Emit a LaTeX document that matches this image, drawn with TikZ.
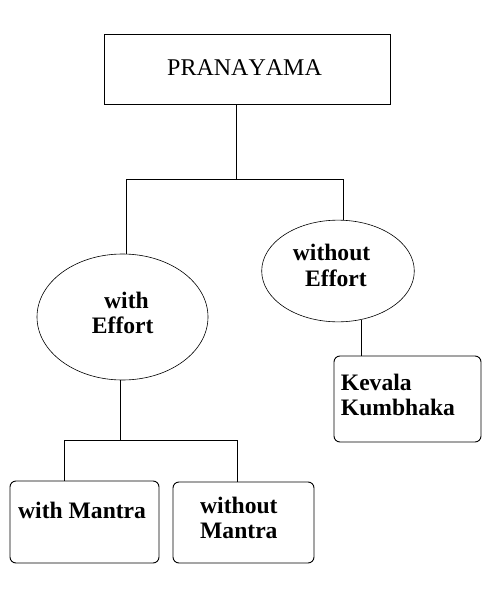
\documentclass[tikz,border=0pt]{standalone}
\usepackage{fontspec}
\setmainfont{Liberation Serif}[Kerning=Off]
\usetikzlibrary{shapes.geometric}
\begin{document}
\begin{tikzpicture}[x=1bp,y=-1bp,
  link/.style={line width=0.9bp},
  sqbox/.style={draw,line width=0.9bp,inner sep=0pt},
  rbox/.style={draw,line width=0.9bp,rounded corners=6bp,inner sep=0pt},
  oval/.style={draw,ellipse,line width=0.6bp,inner sep=0pt},
  lbl/.style={anchor=base west,inner sep=0pt,font=\fontsize{23.6bp}{25bp}\selectfont\bfseries},
  tlbl/.style={anchor=base west,inner sep=0pt,font=\fontsize{24bp}{25bp}\selectfont}]
\useasboundingbox (0,0) rectangle (491,611);
% shapes
\node[sqbox,minimum width=286bp,minimum height=70bp] (pran) at (247,69) {};
\node[oval,minimum width=171bp,minimum height=126bp] (wE) at (122.5,317) {};
\node[oval,minimum width=152.6bp,minimum height=101.7bp] (woE) at (338,271) {};
\node[rbox,minimum width=147bp,minimum height=86bp] (kev) at (407.5,399) {};
\node[rbox,minimum width=149bp,minimum height=82bp] (wM) at (84.5,522) {};
\node[rbox,minimum width=141bp,minimum height=81bp] (woM) at (243.5,522.5) {};
% junctions
\coordinate (j1) at (236,179);
\coordinate (j1l) at (126,179);
\coordinate (j1r) at (343,179);
\coordinate (j2) at (120,440);
\coordinate (j2l) at (64,440);
\coordinate (j2r) at (237,440);
% connectors
\draw[link] (j1 |- pran.south) -- (j1);
\draw[link] (j1l) -- (j1r);
\draw[link] (j1l) -- (j1l |- wE.north);
\draw[link] (j1r) -- (j1r |- woE.north);
\draw[link] (woE.-64.7) -- (woE.-64.7 |- kev.north);
\draw[link] (j2 |- wE.south) -- (j2);
\draw[link] (j2l) -- (j2r);
\draw[link] (j2l) -- (j2l |- wM.north);
\draw[link] (j2r) -- (j2r |- woM.north);
% texts
\node[tlbl] (tpran) at (167,76) {PRANAYAMA};
\node[lbl] (twE1) at (104,308) {with};
\node[lbl] (twE2) at (91.7,333) {Effort};
\node[lbl] (twoE1) at (292.7,260) {without};
\node[lbl] (twoE2) at (305,286.5) {Effort};
\node[lbl] (tkev1) at (340.7,390) {Kevala};
\node[lbl] (tkev2) at (340.7,415) {Kumbhaka};
\node[lbl] (twM) at (18,518) {with Mantra};
\node[lbl] (twoM1) at (200,513) {without};
\node[lbl] (twoM2) at (200,538) {Mantra};
\end{tikzpicture}
\end{document}
